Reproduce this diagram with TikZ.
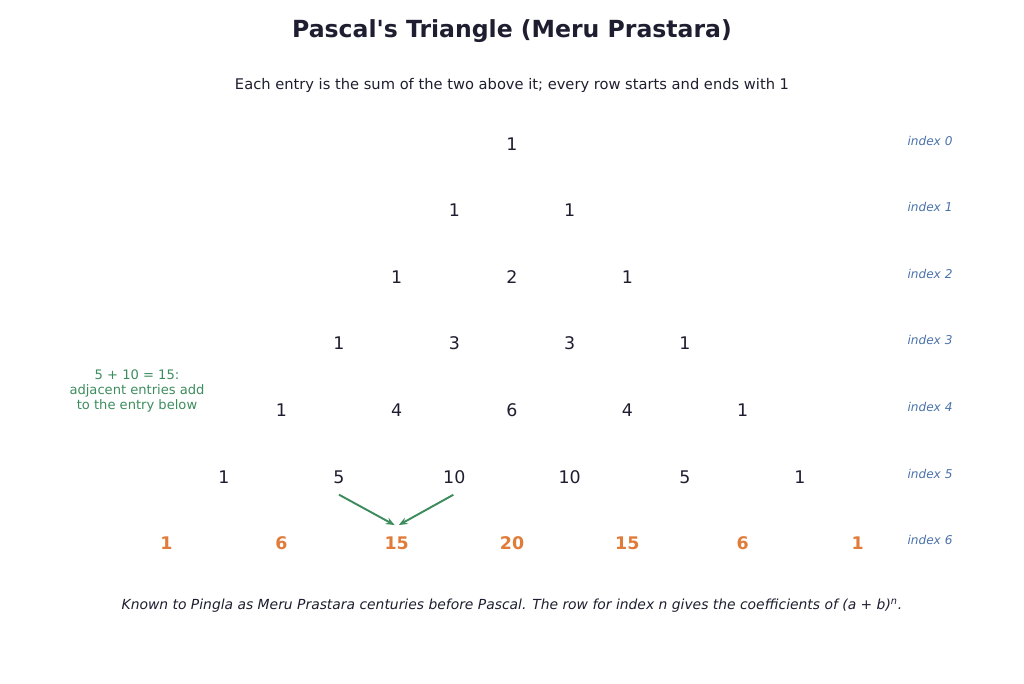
\documentclass[tikz,border=0pt]{standalone}
\usepackage{fontspec}
\setmainfont{DejaVu Sans}
\usepackage{tikz}
\usetikzlibrary{arrows.meta}

\definecolor{inkdark}{HTML}{1E1E30}
\definecolor{idxblue}{HTML}{4A72AA}
\definecolor{notegreen}{HTML}{3D8C5E}
\definecolor{roworange}{HTML}{E07B39}

\tikzset{
  entry/.style={inkdark,font=\fontsize{9.9}{11}\selectfont},
  lastentry/.style={roworange,font=\fontsize{9.9}{11}\selectfont\bfseries},
  idxlabel/.style={idxblue,font=\fontsize{6.9}{8}\selectfont\itshape},
  sumarrow/.style={notegreen,line width=1.1pt,-{Stealth[length=5pt,width=4pt]}}
}

\begin{document}
\begin{tikzpicture}[x=0.02cm,y=-0.02cm]
            \useasboundingbox (0,0) rectangle (1024,683);
            \node[inkdark,font=\fontsize{13.4}{15}\selectfont\bfseries] (title) at (512,31){Pascal\textquotesingle s Triangle (Meru Prastara)};
            \node[inkdark,font=\fontsize{8.35}{10}\selectfont] (subtitle) at (512,85){Each entry is the sum of the two above it; every row starts and ends with 1};

            % row 0
            \node[entry] (r0c0) at (512,144){1};
            % row 1
            \node[entry] (r1c0) at (454.3,210){1};
            \node[entry] (r1c1) at (569.7,210){1};
            % row 2
            \node[entry] (r2c0) at (396.7,277){1};
            \node[entry] (r2c1) at (512,277){2};
            \node[entry] (r2c2) at (627.3,277){1};
            % row 3
            \node[entry] (r3c0) at (339,343){1};
            \node[entry] (r3c1) at (454.3,343){3};
            \node[entry] (r3c2) at (569.7,343){3};
            \node[entry] (r3c3) at (685,343){1};
            % row 4
            \node[entry] (r4c0) at (281.3,410){1};
            \node[entry] (r4c1) at (396.7,410){4};
            \node[entry] (r4c2) at (512,410){6};
            \node[entry] (r4c3) at (627.3,410){4};
            \node[entry] (r4c4) at (742.7,410){1};
            % row 5
            \node[entry] (r5c0) at (224,477){1};
            \node[entry] (r5c1) at (339,477){5};
            \node[entry] (r5c2) at (454.3,477){10};
            \node[entry] (r5c3) at (569.7,477){10};
            \node[entry] (r5c4) at (685,477){5};
            \node[entry] (r5c5) at (800,477){1};
            % row 6
            \node[lastentry] (r6c0) at (166.3,543){1};
            \node[lastentry] (r6c1) at (281.3,543){6};
            \node[lastentry] (r6c2) at (396.7,543){15};
            \node[lastentry] (r6c3) at (512,543){20};
            \node[lastentry] (r6c4) at (627.3,543){15};
            \node[lastentry] (r6c5) at (742.7,543){6};
            \node[lastentry] (r6c6) at (857.7,543){1};

            % index labels
            \node[idxlabel] (idx0) at (930,141){index 0};
            \node[idxlabel] (idx1) at (930,207){index 1};
            \node[idxlabel] (idx2) at (930,274){index 2};
            \node[idxlabel] (idx3) at (930,340){index 3};
            \node[idxlabel] (idx4) at (930,407){index 4};
            \node[idxlabel] (idx5) at (930,474){index 5};
            \node[idxlabel] (idx6) at (930,540){index 6};

            \node[notegreen,font=\fontsize{7.45}{8.4}\selectfont,align=center] (note) at (137,391){5 + 10 = 15:\\adjacent entries add\\to the entry below};

            \draw[sumarrow] (r5c1.south) ++(0,5) -- ([xshift=-1.2pt,yshift=3pt]r6c2.north);
            \draw[sumarrow] (r5c2.south) ++(-1,5) -- ([xshift=1.2pt,yshift=3pt]r6c2.north);

            \node[inkdark,font=\fontsize{7.9}{9}\selectfont\itshape] (caption) at (512,606){Known to Pingla as Meru Prastara centuries before Pascal. The row for index n gives the coefficients of (a + b)\textsuperscript{n}.};
          \end{tikzpicture}
\end{document}
